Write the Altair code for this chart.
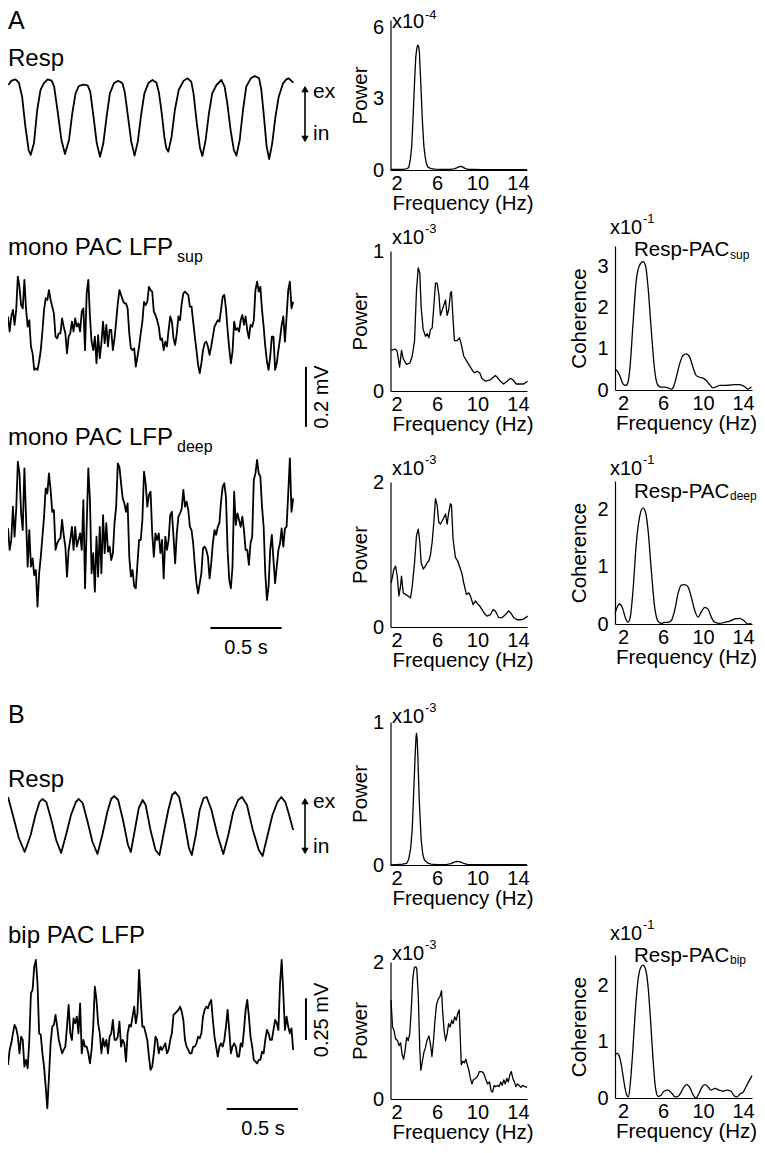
import altair as alt
import pandas as pd

W, H = 749, 1137          # drawing area (page is 765x1153 with 8px margin)
OX, OY = 8, 8             # page offset of the drawing origin
FONT = "Liberation Sans"

# ------------------------------------------------------------------ data
# Respiration trace, panel A (time in ms, amplitude in a.u.)
resp_a_t = [2, 25, 53, 76, 99, 122, 145, 159, 182, 205, 228, 251, 278, 306, 324, 347, 375, 400, 428, 451,
            474, 497, 527, 559, 577, 600, 623, 646, 669, 692, 715, 743, 773, 803, 819, 842, 865, 888, 911, 934,
            957, 987, 1014, 1042, 1060, 1079, 1097, 1111, 1125, 1148, 1171, 1198, 1233, 1260, 1286, 1302, 1325,
            1348, 1364, 1387, 1410, 1433, 1463, 1497, 1520, 1539, 1562, 1585, 1603, 1626, 1649, 1672, 1704,
            1732, 1762, 1778, 1796, 1815, 1833, 1854, 1877, 1900, 1930, 1953, 1971, 1987, 2003]
resp_a_v = [225, 238, 242, 232, 190, 100, 30, 15, 50, 150, 210, 230, 242, 238, 220, 150, 60, 18, 60, 140,
            200, 222, 226, 224, 205, 130, 50, 10, 50, 130, 200, 230, 238, 230, 205, 130, 55, 13, 55, 135,
            200, 232, 240, 232, 200, 140, 70, 35, 25, 70, 150, 210, 238, 245, 235, 200, 110, 35, 12, 60,
            140, 200, 225, 240, 220, 170, 90, 30, 13, 60, 150, 220, 245, 252, 245, 210, 130, 40, 3, 50,
            130, 190, 230, 242, 245, 238, 232]

# LFP traces sampled every 11.5 ms (amplitude in microvolts)
lfp_dt = 11.5
lfp_sup = [56, 6, 56, 78, 28, 78, 189, 155, 94, 83, 178, 83, 22, 44, -44, -67, -122, -117, -122, -94,
           -56, 6, 78, 117, 111, 144, 111, 89, 67, -11, -17, 0, 0, 50, 22, 0, -67, -11, 0, 39,
           6, 50, 22, 33, 6, 72, 83, -56, 133, 178, 56, -28, -56, -11, -100, -6, -83, -33, 39, -33,
           28, -44, 11, 11, -56, -17, 39, 100, 144, 128, 111, 100, 100, 83, 0, -50, -56, -50, -111, -78,
           -44, 0, 39, 105, 94, 105, 155, 144, 139, 72, 61, 44, 22, -22, -17, -56, -28, -44, 11, 56,
           39, -17, -39, 0, 56, 44, 100, 133, 139, 133, 128, 89, 89, 39, -11, -56, -105, -133, -100, -56,
           -33, -28, -44, -72, -44, -11, 22, 33, 44, 39, 78, 122, 128, 83, 11, -50, -100, -61, 39, 11,
           17, 6, 44, 61, 28, 56, 11, -17, 28, 22, 44, 144, 172, 139, 155, 78, 22, -44, -94, -122,
           -78, -11, -11, -122, -100, -56, -17, 28, 56, -28, 56, 144, 172, 83, 105]
lfp_deep = [39, -33, 0, 111, 11, 100, 261, 222, 89, 33, 239, 78, -89, 33, -89, -61, -117, -100, -222, -111,
            -56, 11, 78, 172, 155, 222, 167, 94, 100, -33, -11, 0, 6, 67, 17, -22, -122, -33, 0, 44,
            -33, 44, -22, 0, 22, -33, 133, -161, 44, 239, 133, -111, -44, -172, 11, -122, 44, -111, 83, -44,
            56, -39, -22, -67, -44, 56, 111, 255, 244, 189, 139, 122, 94, 122, -56, -122, -100, -155, -161, -78,
            0, 0, 67, 228, 189, 111, 150, 161, 22, -56, 22, 0, 22, -44, 0, -128, 11, -33, 0, 83,
            94, 11, -78, 22, 78, 89, 105, 167, 111, 128, 100, 44, 33, -11, -83, -144, -178, -144, -111, -28,
            -22, -33, -56, -128, -78, -11, 33, 17, 44, 56, 128, 178, 189, 144, -33, -133, -161, -89, 161, 50,
            89, 67, 44, 78, 33, -33, -33, -83, -11, 11, 200, 222, 267, 222, 211, 111, 44, -111, -200, -155,
            -33, 17, -67, -144, -89, -33, -11, 39, -22, 39, 44, 155, 272, 94, 139]
lfp_bip = [-130, -40, 0, 60, 110, 90, 40, -60, 40, 20, -140, -100, -150, 20, 300, 320, 460, 500, 360, 60,
           50, -60, -140, -260, -390, -200, 0, 100, 110, 170, 100, 20, -20, -60, -40, -20, 100, 230, 60, 20,
           150, 120, 160, 60, 240, -60, 20, -20, -20, -60, -120, -40, 100, 340, 260, 120, 60, -60, 30, -20,
           20, -60, 40, 60, 140, 20, 20, 40, 130, -20, 20, 0, -110, 60, 110, 100, 160, 220, 120, 180,
           440, 260, 100, 100, 60, 20, -80, -160, -140, -60, 40, 20, -60, -20, -40, -20, 0, -60, -40, 20,
           60, 170, 180, 190, 200, 220, 190, 140, 20, -20, -40, -60, -60, -20, -20, 0, 40, 30, 60, 160,
           200, 220, 210, 240, 260, 140, 40, -20, -80, -20, 0, -20, 20, 100, 200, 80, -60, -20, 0, -20,
           -80, -80, 0, -20, 80, 200, 260, 160, 40, -20, -100, -110, -120, -100, -100, -50, -60, 20, 80, 60,
           20, 20, 80, 140, 120, 80, 360, 500, 300, 80, 160, 100, 60, 90, -40]

# Respiration trace, panel B
resp_b_t = [0, 34, 76, 117, 159, 193, 221, 241, 269, 304, 338, 373, 407, 442, 476, 497, 524, 559, 593, 628,
            662, 697, 724, 745, 773, 807, 842, 862, 890, 918, 945, 966, 1000, 1035, 1063, 1090, 1125, 1152,
            1173, 1201, 1235, 1270, 1290, 1318, 1345, 1373, 1394, 1428, 1470, 1511, 1546, 1580, 1615, 1642,
            1677, 1718, 1760, 1787, 1822, 1856, 1891, 1918, 1946, 1973, 2001]
resp_b_v = [63, 45, 22, 8, 25, 45, 58, 61, 58, 40, 20, 7, 25, 45, 58, 61, 57, 38, 18, 6,
            25, 48, 61, 64, 60, 40, 15, 8, 30, 52, 60, 55, 30, 10, 5, 25, 50, 65, 68, 63,
            40, 12, 5, 25, 50, 62, 63, 50, 25, 6, 25, 48, 60, 63, 55, 30, 10, 4, 25, 45,
            58, 63, 58, 45, 30]

# Power spectra (Hz, power in units of the axis multiplier)
pa1_f = [1.4, 2.0, 2.5, 3.0, 3.2, 3.35, 3.5, 3.6, 3.7, 3.8, 3.9, 4.0, 4.08, 4.17, 4.25, 4.4, 4.55, 4.7, 4.85,
         4.95, 5.1, 5.4, 5.8, 6.5, 7.2, 7.7, 8.0, 8.2, 8.4, 8.6, 8.8, 9.1, 9.6, 10.5, 12.0, 13.5, 14.9]
pa1_v = [0.02, 0.02, 0.03, 0.05, 0.1, 0.4, 1.0, 1.9, 2.9, 3.9, 4.75, 5.1, 5.24, 5.2, 5.0, 3.6, 2.1, 1.0, 0.5,
         0.28, 0.12, 0.06, 0.04, 0.03, 0.03, 0.05, 0.1, 0.14, 0.15, 0.11, 0.06, 0.03, 0.02, 0.01, 0.01, 0.01, 0.01]
pa2_f = [1.47, 1.90, 2.07, 2.30, 2.49, 2.66, 2.99, 3.32, 3.55, 3.78, 3.97, 4.14, 4.30, 4.43, 4.63, 4.86, 5.03,
         5.19, 5.36, 5.52, 5.68, 5.85, 6.01, 6.18, 6.34, 6.61, 6.84, 7.00, 7.16, 7.33, 7.43, 7.59, 7.72, 7.99,
         8.22, 8.38, 8.64, 8.97, 9.30, 9.57, 9.70, 9.96, 10.22, 10.45, 10.78, 11.28, 11.77, 11.93, 12.26, 12.59,
         12.92, 13.25, 13.51, 13.84, 14.24, 14.57, 14.96]
pa2_v = [0.29, 0.30, 0.28, 0.17, 0.29, 0.23, 0.19, 0.20, 0.25, 0.36, 0.72, 0.88, 0.84, 0.60, 0.44, 0.39, 0.41,
         0.38, 0.44, 0.45, 0.60, 0.77, 0.77, 0.69, 0.54, 0.60, 0.65, 0.54, 0.58, 0.70, 0.71, 0.51, 0.36, 0.36,
         0.38, 0.34, 0.25, 0.21, 0.17, 0.14, 0.13, 0.14, 0.13, 0.09, 0.07, 0.08, 0.11, 0.10, 0.07, 0.05,
         0.07, 0.09, 0.08, 0.05, 0.05, 0.05, 0.07]
pa3_f = [1.47, 1.74, 1.90, 2.07, 2.23, 2.39, 2.49, 2.66, 2.89, 3.12, 3.38, 3.55, 3.78, 3.97, 4.14, 4.30, 4.43,
         4.63, 4.86, 5.03, 5.19, 5.36, 5.52, 5.68, 5.85, 6.01, 6.18, 6.34, 6.61, 6.84, 7.00, 7.16, 7.33, 7.43,
         7.59, 7.82, 8.05, 8.32, 8.48, 8.64, 8.91, 9.14, 9.30, 9.57, 9.80, 9.96, 10.22, 10.45, 10.68, 10.95,
         11.28, 11.54, 11.77, 12.10, 12.43, 12.76, 13.09, 13.32, 13.58, 13.91, 14.24, 14.57, 14.96]
pa3_v = [0.61, 0.80, 0.84, 0.70, 0.43, 0.56, 0.70, 0.47, 0.45, 0.43, 0.40, 0.56, 0.89, 1.26, 1.35, 1.17, 0.89,
         0.80, 0.84, 0.89, 0.91, 1.00, 1.17, 1.44, 1.77, 1.68, 1.44, 1.42, 1.49, 1.56, 1.42, 1.58, 1.70, 1.68,
         1.21, 0.96, 0.91, 0.80, 0.73, 0.61, 0.45, 0.47, 0.43, 0.31, 0.36, 0.33, 0.29, 0.24, 0.19, 0.15,
         0.17, 0.24, 0.22, 0.13, 0.13, 0.17, 0.22, 0.19, 0.13, 0.10, 0.10, 0.11, 0.15]
pb1_f = [1.4, 2.0, 2.6, 3.0, 3.2, 3.4, 3.55, 3.7, 3.84, 3.92, 3.97, 4.03, 4.1, 4.24, 4.43, 4.6, 4.76, 4.9,
         5.05, 5.4, 6.0, 7.0, 7.4, 7.7, 8.0, 8.3, 8.6, 9.0, 10.0, 12.0, 14.9]
pb1_v = [0.0, 0.003, 0.006, 0.012, 0.04, 0.12, 0.25, 0.52, 0.77, 0.89, 0.92, 0.89, 0.77, 0.46, 0.18, 0.07,
         0.035, 0.025, 0.015, 0.006, 0.003, 0.004, 0.01, 0.02, 0.025, 0.022, 0.012, 0.004, 0.002, 0.002, 0.002]
pb2_f = [1.45, 1.6, 1.75, 1.9, 2.1, 2.25, 2.4, 2.55, 2.7, 2.85, 3.0, 3.15, 3.3, 3.45, 3.6, 3.75, 3.9, 4.0,
         4.15, 4.3, 4.4, 4.55, 4.7, 4.85, 5.0, 5.2, 5.35, 5.5, 5.65, 5.8, 5.95, 6.1, 6.3, 6.45, 6.55, 6.7,
         6.85, 7.0, 7.15, 7.3, 7.45, 7.6, 7.75, 7.9, 8.05, 8.2, 8.3, 8.4, 8.55, 8.7, 8.85, 9.0, 9.15, 9.3,
         9.45, 9.6, 9.8, 10.0, 10.2, 10.4, 10.6, 10.8, 11.0, 11.2, 11.35, 11.5, 11.65, 11.8, 12.0, 12.15,
         12.3, 12.45, 12.6, 12.75, 12.9, 13.05, 13.2, 13.35, 13.5, 13.65, 13.8, 13.95, 14.1, 14.3, 14.5,
         14.7, 14.9]
pb2_v = [1.45, 1.05, 1.0, 0.88, 0.85, 0.78, 0.82, 0.65, 0.58, 0.72, 0.9, 0.85, 0.95, 1.3, 1.75, 1.92, 1.93,
         1.9, 1.5, 0.7, 0.42, 0.55, 0.68, 0.75, 0.85, 0.92, 0.8, 0.62, 0.85, 1.15, 1.38, 1.45, 1.5, 1.58,
         1.3, 1.0, 0.85, 0.95, 1.1, 1.05, 1.15, 1.1, 1.2, 1.15, 1.25, 1.3, 0.9, 0.5, 0.55, 0.53, 0.58, 0.5,
         0.42, 0.3, 0.22, 0.28, 0.3, 0.33, 0.4, 0.4, 0.38, 0.3, 0.22, 0.25, 0.12, 0.1, 0.2, 0.18, 0.2,
         0.18, 0.25, 0.2, 0.28, 0.22, 0.3, 0.25, 0.35, 0.4, 0.3, 0.25, 0.18, 0.22, 0.2, 0.17, 0.2, 0.18, 0.17]

# Coherence spectra (x10^-1)
ca2_f = [1.2, 1.4, 1.67, 2.0, 2.27, 2.5, 2.73, 3.0, 3.33, 3.67, 4.0, 4.27, 4.5, 4.83, 5.17, 5.5, 5.83, 6.17,
         6.5, 6.83, 7.0, 7.33, 7.67, 8.0, 8.33, 8.67, 9.0, 9.33, 9.67, 10.0, 10.33, 10.67, 11.0, 11.33, 11.67,
         12.17, 12.67, 13.17, 13.67, 14.17, 14.5, 14.83]
ca2_v = [0.51, 0.47, 0.35, 0.15, 0.11, 0.19, 0.64, 1.61, 2.67, 3.04, 3.12, 3.0, 2.51, 1.45, 0.47, 0.11, 0.07,
         0.07, 0.05, 0.02, 0.05, 0.31, 0.64, 0.84, 0.88, 0.80, 0.55, 0.35, 0.31, 0.29, 0.23, 0.13, 0.05, 0.08,
         0.11, 0.11, 0.12, 0.13, 0.13, 0.08, 0.02, 0.08]
ca3_f = [1.2, 1.4, 1.67, 1.93, 2.27, 2.5, 2.73, 3.0, 3.33, 3.67, 4.0, 4.27, 4.5, 4.83, 5.17, 5.5, 5.83, 6.17,
         6.5, 6.83, 7.17, 7.5, 7.83, 8.17, 8.5, 8.83, 9.17, 9.5, 9.83, 10.17, 10.5, 10.83, 11.17, 11.67, 12.17,
         12.67, 13.17, 13.67, 14.07, 14.5, 14.83]
ca3_v = [0.18, 0.29, 0.35, 0.29, 0.09, 0.03, 0.12, 0.59, 1.41, 1.88, 2.03, 1.94, 1.65, 0.94, 0.29, 0.05, 0.01,
         0.03, 0.03, 0.06, 0.24, 0.53, 0.68, 0.69, 0.65, 0.47, 0.24, 0.12, 0.21, 0.29, 0.26, 0.12, 0.03, 0.01,
         0.03, 0.05, 0.09, 0.10, 0.06, 0.0, 0.01]
cb2_f = [1.2, 1.4, 1.6, 1.8, 2.0, 2.2, 2.4, 2.55, 2.75, 3.0, 3.25, 3.5, 3.75, 4.0, 4.25, 4.5, 4.75, 5.0, 5.25,
         5.5, 5.8, 6.1, 6.5, 6.9, 7.2, 7.5, 7.8, 8.1, 8.4, 8.7, 9.0, 9.3, 9.6, 9.9, 10.2, 10.5, 10.8, 11.2,
         11.6, 12.0, 12.4, 12.8, 13.1, 13.4, 13.7, 14.0, 14.3, 14.6, 14.9]
cb2_v = [0.75, 0.8, 0.76, 0.62, 0.4, 0.18, 0.04, 0.02, 0.3, 0.9, 1.6, 2.1, 2.32, 2.37, 2.3, 2.0, 1.4, 0.7, 0.18,
         0.03, 0.05, 0.12, 0.14, 0.08, 0.02, 0.03, 0.1, 0.2, 0.24, 0.18, 0.06, 0.0, 0.08, 0.2, 0.24, 0.2, 0.14,
         0.17, 0.14, 0.12, 0.14, 0.12, 0.04, 0.02, 0.07, 0.1, 0.2, 0.3, 0.4]

freq_ticks = [2, 6, 10, 14]


# ------------------------------------------------------------------ helpers
def X(v):
    return v - OX


def Y(v):
    return v - OY


def spectrum(freq, vals, xl, xr, xdom, yb, yt, ydom, yticks, ytitle, ytitle_dx, xtitle_cx, smooth=False):
    df = pd.DataFrame({"f": freq, "v": vals})
    mk = dict(color="black", strokeWidth=1.3, strokeJoin="round")
    if smooth:
        mk["interpolate"] = "monotone"
    return alt.Chart(df).mark_line(**mk).encode(
        x=alt.X("f:Q",
                scale=alt.Scale(domain=xdom, range=[X(xl), X(xr)], nice=False, zero=False),
                axis=alt.Axis(orient="bottom", offset=Y(yb) - H, values=freq_ticks, format="d",
                              labelPadding=3,
                              title="Frequency (Hz)", titleX=X(xtitle_cx), titleY=39,
                              titleBaseline="alphabetic", titleAlign="center")),
        y=alt.Y("v:Q",
                scale=alt.Scale(domain=ydom, range=[Y(yb), Y(yt)], nice=False, zero=False),
                axis=alt.Axis(orient="left", offset=-X(xl), values=yticks, format="d", labelPadding=7,
                              title=ytitle, titleX=ytitle_dx, titleBaseline="alphabetic",
                              titleAlign="center")),
    )


def time_scale():
    return alt.Scale(domain=[0, 2000], range=[X(8), X(293)], nice=False, zero=False)


def amp_scale(base_y, px_per_unit, unit=100):
    return alt.Scale(domain=[0, unit], range=[Y(base_y), Y(base_y - px_per_unit * unit)], nice=False, zero=False)


def trace(t, v, yscale, width=1.8):
    df = pd.DataFrame({"t": t, "v": v})
    return alt.Chart(df).mark_line(color="black", strokeWidth=width, strokeJoin="round").encode(
        x=alt.X("t:Q", scale=time_scale(), axis=None),
        y=alt.Y("v:Q", scale=yscale, axis=None),
    )


def hbar(t0, t1, y):
    df = pd.DataFrame({"t0": [t0], "t1": [t1]})
    return alt.Chart(df).mark_rule(color="black", strokeWidth=2).encode(
        x=alt.X("t0:Q", scale=time_scale(), axis=None), x2="t1:Q", y=alt.value(Y(y)))


def vbar(t, v0, v1, yscale):
    df = pd.DataFrame({"t": [t], "v0": [v0], "v1": [v1]})
    return alt.Chart(df).mark_rule(color="black", strokeWidth=2).encode(
        x=alt.X("t:Q", scale=time_scale(), axis=None),
        y=alt.Y("v0:Q", scale=yscale, axis=None), y2="v1:Q")


def txt(s, x, y, size=20, align="left", baseline="alphabetic", angle=None):
    kw = dict(text=s, font=FONT, fontSize=size, align=align, baseline=baseline, color="black")
    if angle is not None:
        kw["angle"] = angle
    return alt.Chart(alt.Data(values=[{}])).mark_text(**kw).encode(x=alt.value(X(x)), y=alt.value(Y(y)))


def arrow(x, ytop, ybot):
    one = alt.Data(values=[{}])
    rule = alt.Chart(one).mark_rule(color="black", strokeWidth=1.6).encode(
        x=alt.value(X(x)), y=alt.value(Y(ytop + 5)), y2=alt.value(Y(ybot - 5)))
    up = alt.Chart(one).mark_point(shape="triangle-up", filled=True, size=55, color="black", opacity=1).encode(
        x=alt.value(X(x)), y=alt.value(Y(ytop + 4)))
    dn = alt.Chart(one).mark_point(shape="triangle-down", filled=True, size=55, color="black", opacity=1).encode(
        x=alt.value(X(x)), y=alt.value(Y(ybot - 4)))
    return [rule, up, dn]


def multiplier(x, y, exp, rise=11):
    return [txt("x10", x, y, 20), txt(exp, x + 33, y - rise, 13)]


# ------------------------------------------------------------------ layers
layers = []

sc_resp_a = amp_scale(160, 1 / 3.0)
sc_sup = amp_scale(333.3, 0.3)
sc_deep = amp_scale(540, 0.3)
sc_resp_b = amp_scale(860, 1.0, 60)
sc_bip = amp_scale(1043.3, 1 / 6.0)

lfp_t = [round(i * lfp_dt, 1) for i in range(len(lfp_sup))]

layers += [
    trace(resp_a_t, resp_a_v, sc_resp_a),
    trace(lfp_t, lfp_sup, sc_sup),
    trace(lfp_t, lfp_deep, sc_deep),
    trace(resp_b_t, resp_b_v, sc_resp_b),
    trace(lfp_t, lfp_bip, sc_bip),
]

# scale bars
layers += [
    vbar(2091, -312, -112, sc_sup),
    hbar(1420, 1920, 628),
    vbar(2091, 20, 270, sc_bip),
    hbar(1535, 2035, 1109),
]

# spectra
PXL, PXR, PDOM = 390.5, 527, [1.4, 14.9]
CXL, CXR, CDOM = 615, 752, [1.2, 14.9]
layers += [
    spectrum(pa1_f, pa1_v, PXL, PXR, PDOM, 170, 20, [0, 6.3], [0, 3, 6], "Power", -24, 462.5),
    spectrum(pa2_f, pa2_v, PXL, PXR, PDOM, 391, 251, [0, 1], [0, 1], "Power", -24, 462.5),
    spectrum(pa3_f, pa3_v, PXL, PXR, PDOM, 627, 482, [0, 2], [0, 2], "Power", -24, 462.5),
    spectrum(pb1_f, pb1_v, PXL, PXR, PDOM, 865, 722, [0, 1], [0, 1], "Power", -24, 462.5),
    spectrum(pb2_f, pb2_v, PXL, PXR, PDOM, 1099, 962, [0, 2], [0, 1, 2], "Power", -24, 462.5),
    spectrum(ca2_f, ca2_v, CXL, CXR, CDOM, 390, 246, [0, 3.5], [0, 1, 2, 3], "Coherence", -30, 686, True),
    spectrum(ca3_f, ca3_v, CXL, CXR, CDOM, 624, 481, [0, 2.5], [0, 1, 2], "Coherence", -30, 686, True),
    spectrum(cb2_f, cb2_v, CXL, CXR, CDOM, 1098, 955, [0, 2.55], [0, 1, 2], "Coherence", -30, 686, True),
]

# text annotations
layers += [
    txt("A", 8, 29, 25),
    txt("B", 8, 723, 25),
    txt("Resp", 8, 66, 24),
    txt("mono PAC LFP", 8, 255, 24), txt("sup", 177, 262, 16),
    txt("mono PAC LFP", 8, 445, 24), txt("deep", 177, 452, 16),
    txt("Resp", 8, 787, 24),
    txt("bip PAC LFP", 8, 943, 24),
    txt("ex", 313, 98, 21), txt("in", 313, 140, 21),
    txt("ex", 313, 808, 21), txt("in", 313, 853, 21),
    txt("0.5 s", 246, 654, 20, align="center"),
    txt("0.5 s", 263, 1135, 20, align="center"),
    txt("0.2 mV", 322, 397, 20, align="center", baseline="middle", angle=270),
    txt("0.25 mV", 322, 1020, 20, align="center", baseline="middle", angle=270),
    txt("Resp-PAC", 634, 256, 20.5), txt("sup", 730, 259, 12),
    txt("Resp-PAC", 634, 498, 20.5), txt("deep", 730, 500, 12),
    txt("Resp-PAC", 634, 962, 20.5), txt("bip", 730, 964, 12),
]
layers += multiplier(392, 28, "-4", rise=9)
layers += multiplier(392, 244, "-3")
layers += multiplier(392, 475, "-3")
layers += multiplier(392, 723, "-3")
layers += multiplier(392, 960, "-3")
layers += multiplier(610, 234, "-1")
layers += multiplier(610, 475, "-1")
layers += multiplier(610, 940, "-1")
layers += arrow(305, 85, 143)
layers += arrow(305, 797, 855)

chart = (
    alt.layer(*layers)
    .resolve_scale(x="independent", y="independent")
    .resolve_axis(x="independent", y="independent")
    .properties(width=W, height=H, padding=0, autosize=alt.AutoSizeParams(type="none"))
    .configure_view(strokeWidth=0)
    .configure_axis(
        labelFont=FONT, titleFont=FONT, labelFontSize=20, titleFontSize=20.5,
        labelColor="black", titleColor="black", titleFontWeight="normal",
        domainColor="black", domainWidth=1.2, ticks=False, tickSize=0, grid=False,
        labelFlush=False, labelOverlap=False,
    )
)

chart.save("out.html", embed_options={"renderer": "svg", "actions": False})
